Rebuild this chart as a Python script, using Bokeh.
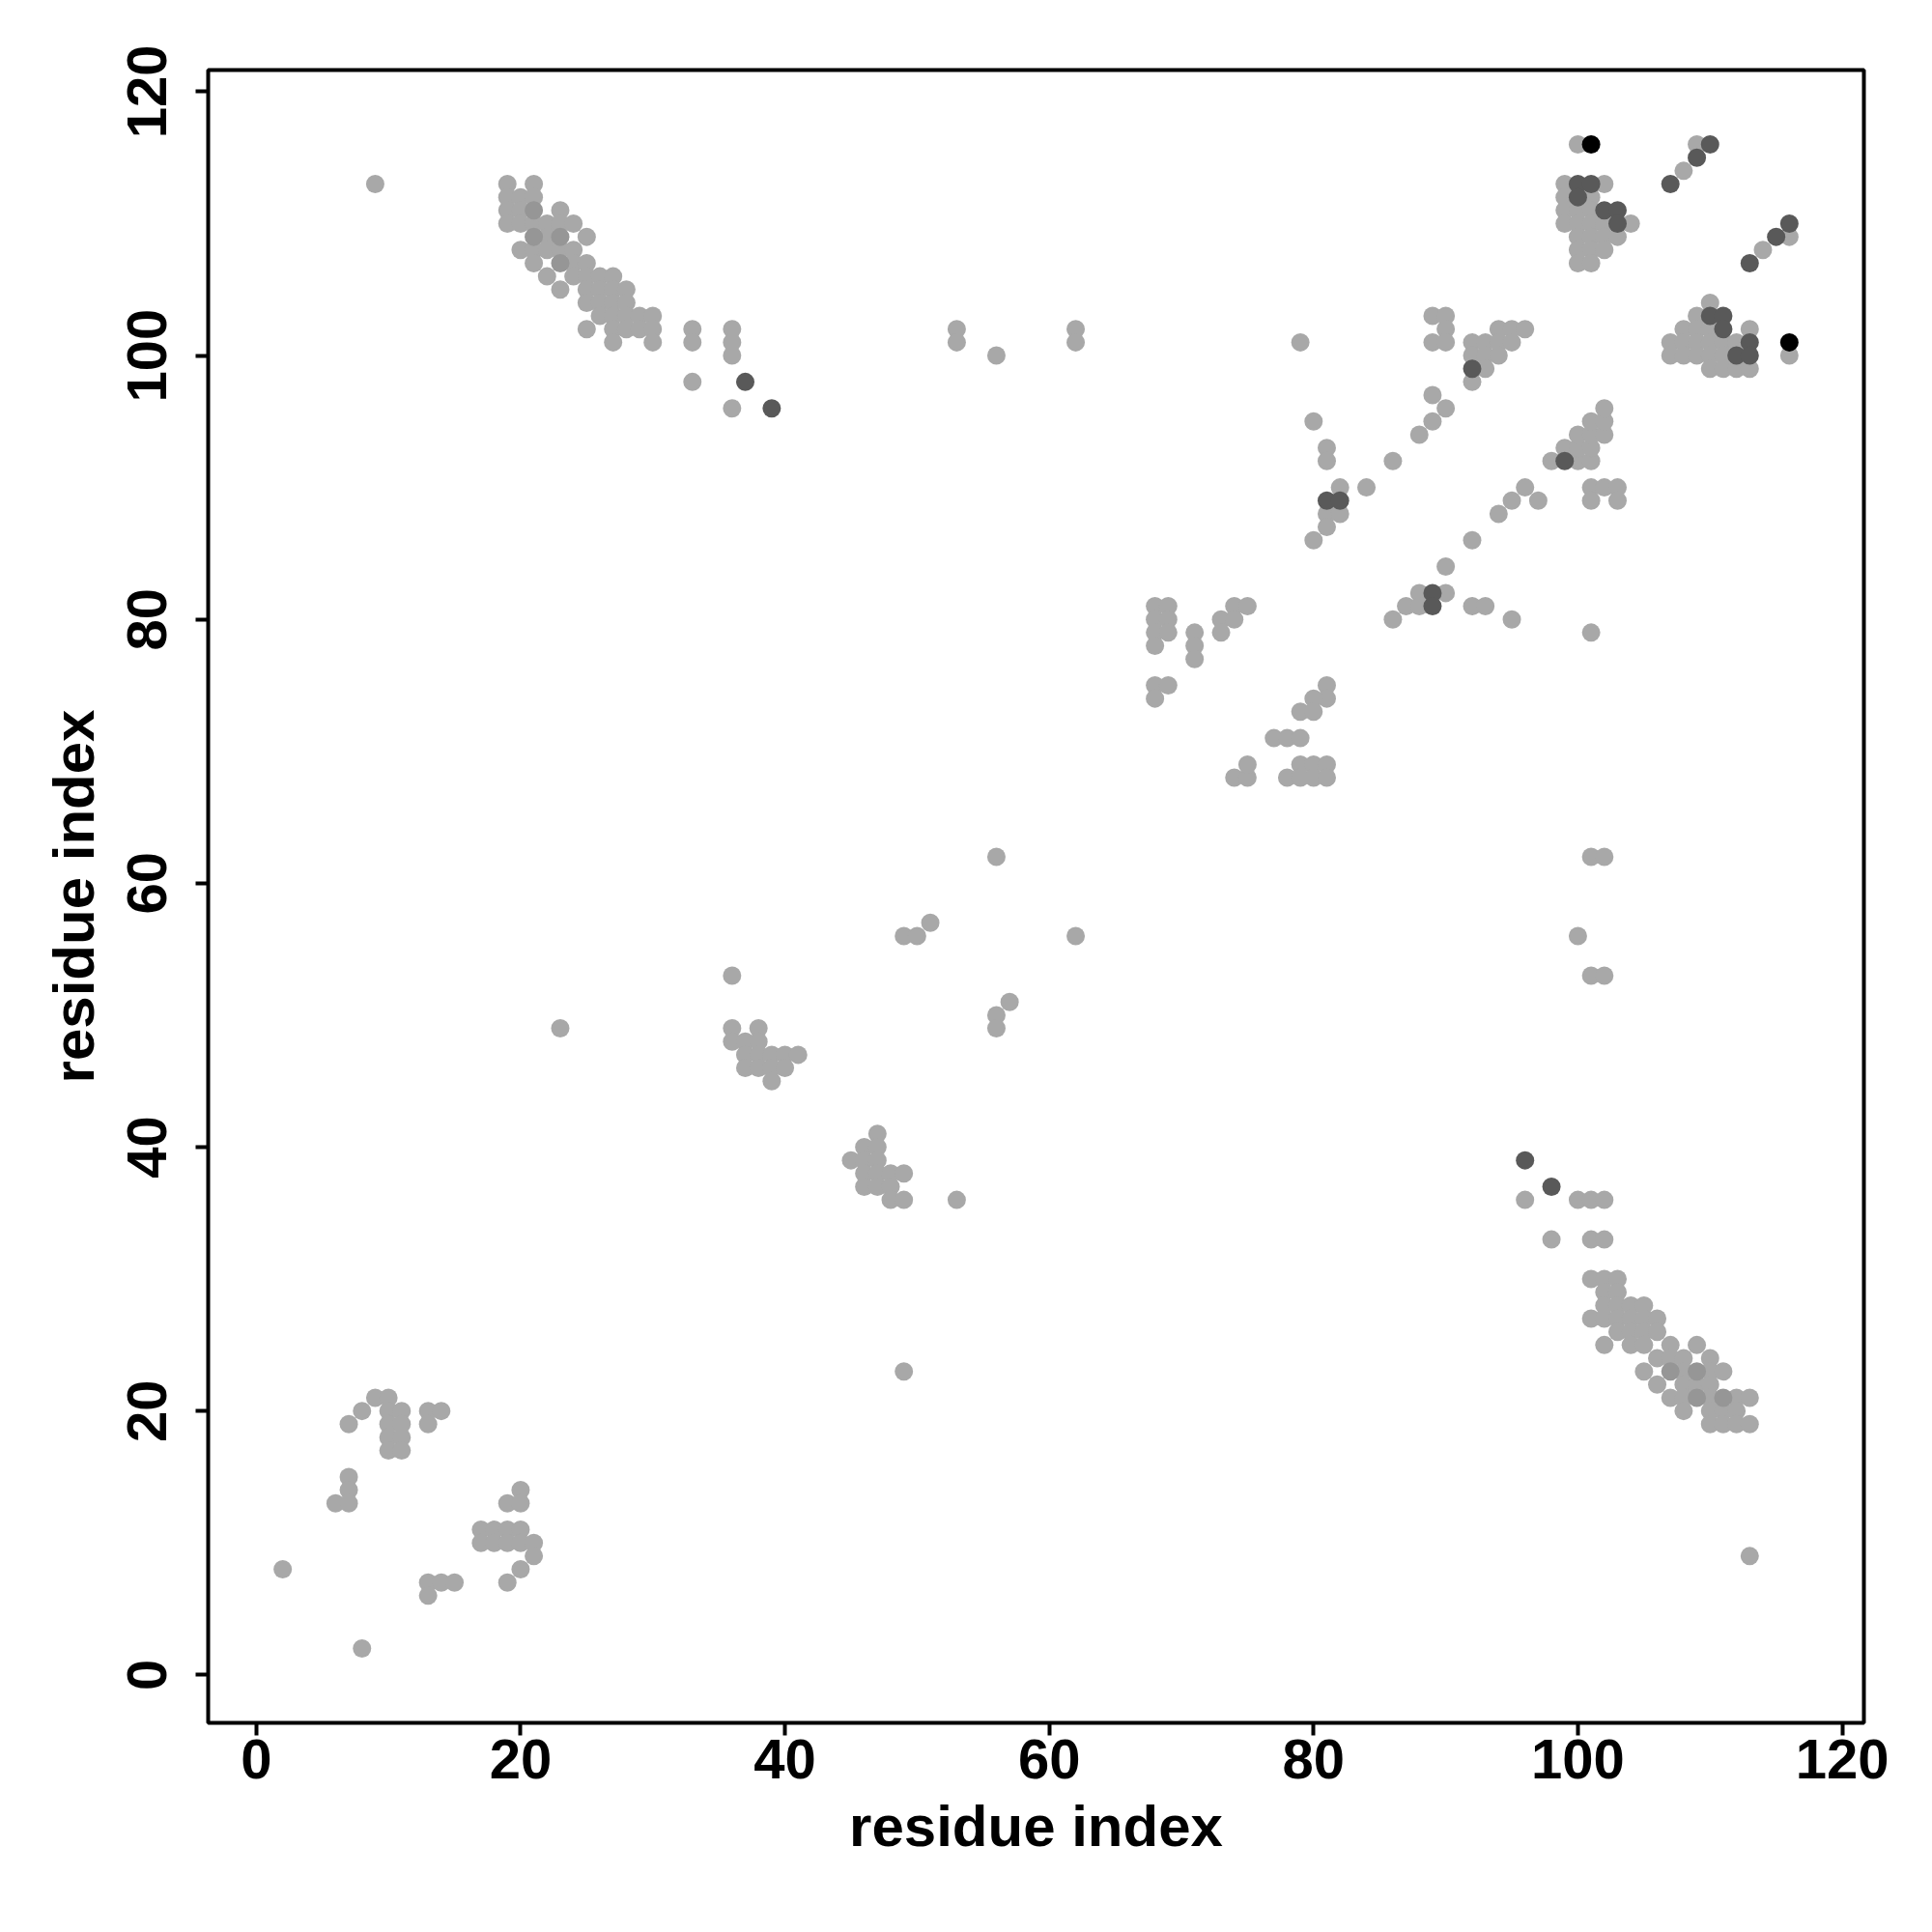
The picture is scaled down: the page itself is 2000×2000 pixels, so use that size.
from bokeh.plotting import figure
from bokeh.models import ColumnDataSource, FixedTicker, Range1d
from bokeh.embed import file_html
from bokeh.resources import INLINE

# ---- data: residue pairs (i, j) grouped by shade ----
gray_i = [2, 8, 7, 8, 9, 10, 10, 10, 10, 10, 11, 11, 11, 11, 13, 14, 13, 7, 7, 6, 7,
          20, 19, 20, 17, 18, 19, 20, 17, 18, 19, 20, 21, 21, 20, 19, 13, 14, 15, 13,
          9,
          19, 21, 19, 20, 21, 19, 20, 23, 19, 20, 21, 22, 23, 24, 22, 25,
          20, 21, 22, 23, 24, 21, 24, 25, 22, 24, 25, 26, 27, 23, 25, 26, 27, 28,
          25, 26, 27, 28, 26, 27, 28, 29, 30, 25, 27, 28, 29, 30, 27, 30,
          33, 33, 36, 36, 36, 33, 36, 53, 53, 56, 62, 62,
          23, 36, 36, 38, 36, 37, 38, 37, 38, 39, 40, 41, 37, 38, 39, 40, 39,
          47, 46, 47, 45, 46, 47, 46, 47, 48, 49, 46, 47, 48, 48, 49, 53, 49,
          49, 50, 51, 56, 62, 56, 56, 57,
          68, 69, 68, 69, 68, 69, 68, 68, 69, 68, 71, 71, 71, 73, 73, 74, 75, 74,
          74, 75, 75, 77, 78, 79, 79, 80, 81, 78, 79, 80, 81, 81, 81, 80, 79, 80,
          79, 80, 81, 81, 82, 84, 81, 82, 81, 80,
          86, 88, 89, 90, 89, 89, 90, 90, 89, 90,
          94, 95, 96, 92, 93, 94, 95, 92, 93, 94, 93, 92,
          92, 90, 88, 90, 87, 88, 86, 92, 93, 95, 101,
          94, 95, 96, 97,
          98, 100, 101, 99, 100, 101, 100, 101, 102, 101, 102, 102, 101, 102, 103, 101, 103,
          100, 109, 108,
          99, 102, 99, 101, 99, 100, 101, 99, 100, 101, 102, 104, 100, 101, 102, 103,
          100, 101, 102, 100, 101,
          116, 114,
          110, 109, 108, 109, 110, 113, 107, 108, 109, 110, 111, 112,
          107, 108, 109, 110, 111, 116, 110, 111, 112, 113,
          101, 102, 100, 101, 102,
          96, 98, 100, 101, 102, 101, 102,
          101, 102, 103, 102, 103, 102, 103, 104, 105, 101, 102, 103, 104, 105, 106,
          103, 104, 105, 106, 102, 104, 105, 107, 109, 106, 107, 108, 110,
          105, 108, 110, 111, 106, 108, 109, 110, 107, 108, 110, 112, 113,
          108, 110, 111, 112, 110, 111, 112, 113, 113]
gray_j = [8, 2, 19, 20, 21, 21, 20, 19, 18, 17, 20, 19, 18, 17, 20, 20, 19, 15, 14, 13, 13,
          14, 13, 13, 11, 11, 11, 11, 10, 10, 10, 10, 10, 9, 8, 7, 7, 7, 7, 6,
          113,
          113, 113, 112, 112, 112, 111, 111, 111, 110, 110, 110, 110, 110, 110, 109, 109,
          108, 108, 108, 108, 108, 107, 107, 107, 106, 106, 106, 106, 106, 105, 105, 105, 105, 105,
          104, 104, 104, 104, 103, 103, 103, 103, 103, 102, 102, 102, 102, 102, 101, 101,
          102, 101, 102, 101, 100, 98, 96, 102, 101, 100, 102, 101,
          49, 53, 49, 49, 48, 48, 48, 47, 47, 47, 47, 47, 46, 46, 46, 46, 45,
          41, 40, 40, 39, 39, 39, 38, 38, 38, 38, 37, 37, 37, 36, 36, 36, 23,
          56, 56, 57, 62, 56, 50, 49, 51,
          81, 81, 80, 80, 79, 79, 78, 75, 75, 74, 79, 78, 77, 80, 79, 81, 81, 80,
          68, 68, 69, 71, 71, 71, 69, 69, 69, 68, 68, 68, 68, 75, 74, 74, 73, 73,
          101, 95, 93, 92, 90, 90, 88, 88, 87, 86,
          92, 94, 95, 96, 97, 103, 103, 102, 101, 101,
          102, 102, 102, 101, 101, 101, 101, 100, 100, 100, 99, 98,
          86, 84, 82, 82, 81, 81, 80, 81, 81, 80, 79,
          88, 89, 90, 89,
          92, 92, 92, 93, 93, 93, 94, 94, 94, 95, 95, 96, 90, 90, 90, 89, 89,
          116, 116, 114,
          113, 113, 112, 112, 111, 111, 111, 110, 110, 110, 110, 110, 109, 109, 109, 109,
          108, 108, 108, 107, 107,
          109, 108,
          104, 103, 102, 102, 102, 102, 101, 101, 101, 101, 101, 101,
          100, 100, 100, 100, 100, 100, 99, 99, 99, 99,
          62, 62, 56, 53, 53,
          36, 33, 36, 36, 36, 33, 33,
          30, 30, 30, 29, 29, 28, 28, 28, 28, 27, 27, 27, 27, 27, 27,
          26, 26, 26, 26, 25, 25, 25, 25, 25, 24, 24, 24, 24,
          23, 23, 23, 23, 22, 22, 22, 22, 21, 21, 21, 21, 21,
          20, 20, 20, 20, 19, 19, 19, 19, 9]

mid_i = [21, 21, 23, 23, 107, 109, 109, 111]
mid_j = [111, 109, 109, 107, 23, 23, 21, 21]

dark_i = [37, 39, 81, 82, 92, 89, 89, 99,
          110, 109, 107, 100, 101, 100, 102, 103, 103,
          116, 115, 113, 110, 111, 111, 113, 112, 113,
          96, 98]
dark_j = [98, 96, 89, 89, 99, 82, 81, 92,
          116, 115, 113, 113, 113, 112, 111, 111, 110,
          110, 109, 107, 103, 103, 102, 101, 100, 100,
          39, 37]

black_i = [101, 116]
black_j = [116, 101]

tick_values = [0, 20, 40, 60, 80, 100, 120]
axis_title = "residue index"

# ---- figure ----
W = H = 1984
p = figure(width=W, height=H, output_backend="svg", toolbar_location=None,
           x_range=Range1d(-3.64, 121.64), y_range=Range1d(-3.64, 121.64),
           min_border_left=215, min_border_right=55, min_border_top=72,
           min_border_bottom=201)
p.background_fill_color = "white"
p.border_fill_color = "white"
p.outline_line_color = "black"
p.outline_line_width = 4
p.xgrid.visible = False
p.ygrid.visible = False

layers = [(gray_i, gray_j, "#a8a8a8"), (mid_i, mid_j, "#969696"),
          (dark_i, dark_j, "#595959"), (black_i, black_j, "#000000")]
for xi, yj, col in layers:
    src = ColumnDataSource(dict(x=xi, y=yj))
    p.scatter("x", "y", source=src, size=19, fill_color=col, line_color=None)

for ax in (p.xaxis[0], p.yaxis[0]):
    ax.ticker = FixedTicker(ticks=tick_values)
    ax.axis_line_color = None
    ax.major_tick_line_color = "black"
    ax.major_tick_line_width = 4
    ax.major_tick_out = 13
    ax.major_tick_in = 0
    ax.minor_tick_line_color = None
    ax.major_label_text_font = "Liberation Sans"
    ax.major_label_text_font_style = "bold"
    ax.major_label_text_font_size = "58px"
    ax.major_label_text_color = "black"
    ax.axis_label = axis_title
    ax.axis_label_text_font = "Liberation Sans"
    ax.axis_label_text_font_style = "bold"
    ax.axis_label_text_font_size = "60px"
    ax.axis_label_text_color = "black"

p.xaxis[0].major_label_standoff = 4
p.xaxis[0].axis_label_standoff = 13
p.yaxis[0].major_label_orientation = "vertical"
p.yaxis[0].major_label_standoff = 30
p.yaxis[0].axis_label_standoff = 20

open("out.html", "w").write(file_html(p, INLINE))
